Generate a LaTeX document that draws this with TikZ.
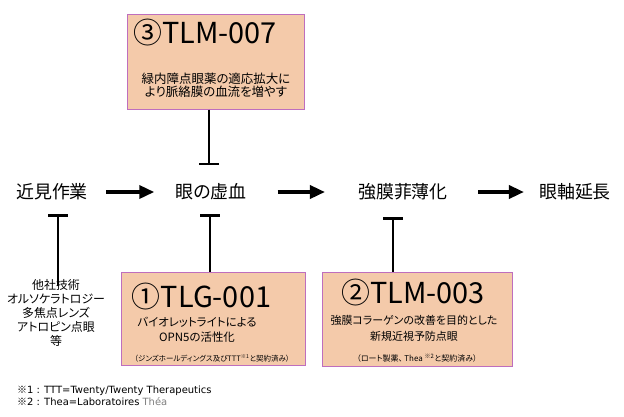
\documentclass[tikz,border=0pt]{standalone}
\usepackage{fontspec}
\setmainfont{Noto Sans CJK JP}[RawFeature=+palt]
\newfontfamily\notefont{DejaVu Sans}
\usetikzlibrary{arrows.meta}
\definecolor{boxfill}{RGB}{244,202,170}
\definecolor{boxline}{RGB}{190,110,190}
\begin{document}
\begin{tikzpicture}[x=1bp, y=-1bp, every node/.style={inner sep=0pt, align=center},
    stage/.style={font=\fontsize{18}{20}\selectfont},
    flow/.style={line width=3.5bp, -{Triangle[length=15bp,width=13bp]}},
    inhibit/.style={line width=2.5bp, -{Bar[width=20bp]}},
    drug/.style={draw=boxline, fill=boxfill, line width=1bp},
    drugname/.style={font=\fontsize{29}{30}\selectfont},
    effect/.style={font=\fontsize{11.5}{15}\selectfont},
    memo/.style={font=\fontsize{7.5}{9}\selectfont}]
    \fill[white] (0,0) rectangle (624,416);
    \useasboundingbox (0,0) rectangle (624,416);
    \node[stage] (work) at (52,192) {近見作業};
    \node[stage] (ischemia) at (211,192) {眼の虚血};
    \node[stage] (thin) at (403,192) {強膜菲薄化};
    \node[stage] (axial) at (575,192) {眼軸延長};
    \draw[flow, shorten <=18bp, shorten >=21bp] (work.east) -- (ischemia.west);
    \draw[flow, shorten <=31bp, shorten >=33bp] (ischemia.east) -- (thin.west);
    \draw[flow, shorten <=30bp, shorten >=15bp] (thin.east) -- (axial.west);
    \node[drug, minimum width=177bp, minimum height=95bp] (tlm7) at (215.5,61.5) {};
    \node[drugname] (tlm7name) at (205,33) {③TLM-007};
    \node[effect, font=\fontsize{12.5}{13}\selectfont] (tlm7eff) at (216,85.5) {緑内障点眼薬の適応拡大に\\より脈絡膜の血流を増やす};
    \node[drug, minimum width=184bp, minimum height=93bp] (tlg1) at (213,318.5) {};
    \node[drugname] (tlg1name) at (201.5,297) {①TLG-001};
    \node[effect] (tlg1eff) at (197,329.5) {バイオレットライトによる\\OPN5の活性化};
    \node[memo] (tlg1memo) at (212,358) {（ジンズホールディングス及びTTT\textsuperscript{※1}と契約済み）};
    \node[drug, minimum width=190bp, minimum height=94bp] (tlm3) at (417,319) {};
    \node[drugname] (tlm3name) at (413,293) {②TLM-003};
    \node[effect, font=\fontsize{11}{16}\selectfont] (tlm3eff) at (414,328) {強膜コラーゲンの改善を目的とした\\新規近視予防点眼};
    \node[memo, font=\fontsize{8}{9}\selectfont] (tlm3memo) at (417,358) {（ロート製薬、 Thea \textsuperscript{※2}と契約済み）};
    \node[font=\fontsize{12}{14}\selectfont] (others) at (56,313) {他社技術\\オルソケラトロジー\\多焦点レンズ\\アトロピン点眼\\等};
    \coordinate (barA) at (209,165);
    \coordinate (barB) at (58,214);
    \coordinate (barC) at (210,214);
    \coordinate (barD) at (393,217);
    \draw[inhibit] (tlm7.south -| barA) -- (barA);
    \draw[inhibit] ([yshift=-7bp]others.north -| barB) -- (barB);
    \draw[inhibit] (tlg1.north -| barC) -- (barC);
    \draw[inhibit] (tlm3.north -| barD) -- (barD);
    \node[anchor=west, font=\fontsize{10}{11}\selectfont] (note1) at (17,391) {※\notefont 1 : TTT=Twenty/Twenty Therapeutics};
    \node[anchor=west, font=\fontsize{10}{11}\selectfont] (note2) at (17,402) {※\notefont 2 : Thea=Laboratoires {\color{gray}Théa}};
\end{tikzpicture}
\end{document}
